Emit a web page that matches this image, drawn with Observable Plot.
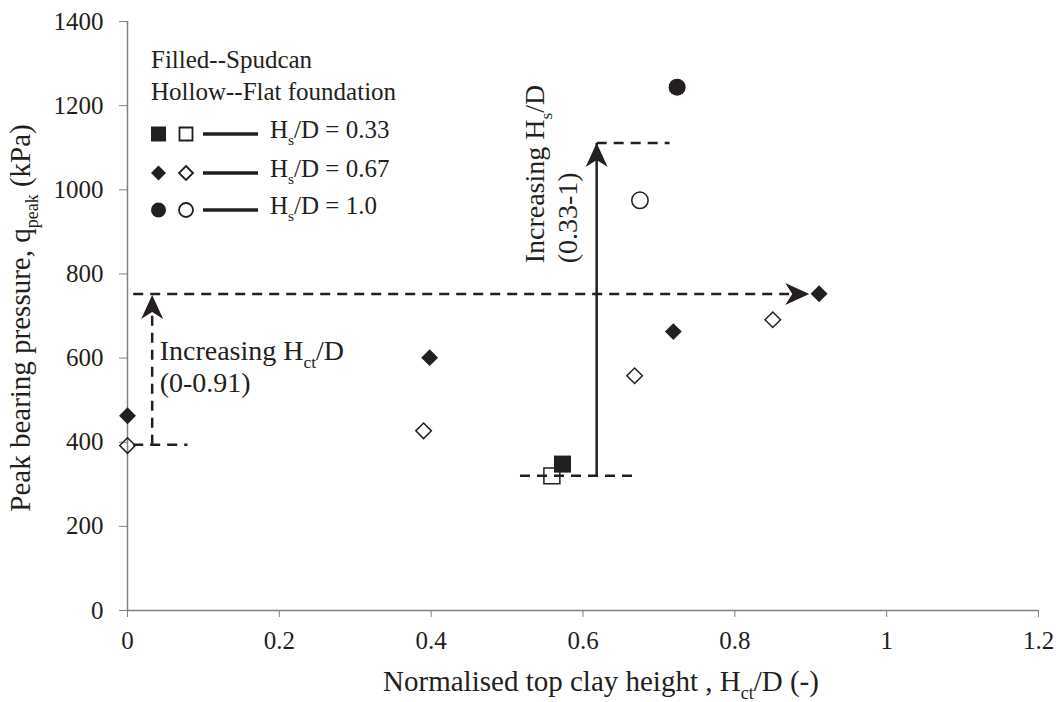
<!DOCTYPE html>
<html>
<head>
<meta charset="utf-8">
<script src="https://cdn.jsdelivr.net/npm/d3@7"></script>
<script src="https://cdn.jsdelivr.net/npm/@observablehq/plot@0.6"></script>
<style>
  html, body { margin: 0; padding: 0; background: #fff; }
  #chart { position: relative; width: 1059px; height: 702px; }
  #chart svg, #chart svg text, #chart svg tspan { font-family: "Liberation Serif", serif !important; }
</style>
</head>
<body>
<div id="chart"></div>
<script>
// ---------- data ----------
const xTicks = [0, 0.2, 0.4, 0.6, 0.8, 1, 1.2];
const yTicks = [0, 200, 400, 600, 800, 1000, 1200, 1400];

// Hs/D = 0.33
const spud033X = [0.573];
const spud033Y = [348];
const flat033X = [0.559];
const flat033Y = [320];
// Hs/D = 0.67
const spud067X = [0, 0.398, 0.719, 0.911];
const spud067Y = [463, 601, 663, 753];
const flat067X = [0, 0.39, 0.668, 0.85];
const flat067Y = [392, 427, 558, 691];
// Hs/D = 1.0
const spud100X = [0.724];
const spud100Y = [1244];
const flat100X = [0.675];
const flat100Y = [975];

// annotation guides (data coordinates)
const dashHY  = [752, 394, 1111, 320];
const dashHX1 = [0.0075, 0.0075, 0.618, 0.517];
const dashHX2 = [0.898, 0.079, 0.714, 0.665];
const dashVX  = [0.0325];
const dashVY1 = [394];
const dashVY2 = [750];
const solidVX  = [0.618];
const solidVY1 = [320];
const solidVY2 = [1111];
const arrowX   = [0.0325, 0.898, 0.618];
const arrowY   = [750, 752, 1111];
const arrowRot = [0, 90, 0];

const ink = "#231f20";
const axisGrey = "#808080";

const pts = (xs, ys) => xs.map((x, i) => ({x, y: ys[i]}));

// stealth arrowhead, tip at origin, pointing up
const stealth = {
  draw(ctx) {
    ctx.moveTo(0, 0);
    ctx.lineTo(11, 24);
    ctx.lineTo(0, 17);
    ctx.lineTo(-11, 24);
    ctx.closePath();
  }
};

const hDash = dashHY.map((y, i) => ({x1: dashHX1[i], x2: dashHX2[i], y1: y, y2: y}));
const vDash = dashVX.map((x, i) => ({x1: x, x2: x, y1: dashVY1[i], y2: dashVY2[i]}));
const vSolid = solidVX.map((x, i) => ({x1: x, x2: x, y1: solidVY1[i], y2: solidVY2[i]}));
const arrows = arrowX.map((x, i) => ({x, y: arrowY[i], r: arrowRot[i]}));

const plot = Plot.plot({
  width: 1059,
  height: 702,
  marginLeft: 127,
  marginRight: 21,
  marginTop: 21,
  marginBottom: 92,
  style: {fontFamily: "Liberation Serif", color: ink, background: "#fff"},
  x: {domain: [0, 1.2]},
  y: {domain: [0, 1400]},
  marks: [
    Plot.axisX({ticks: xTicks, tickFormat: d => String(d), tickSize: 7, tickPadding: 14, fontSize: 25, label: null, stroke: axisGrey, fill: ink}),
    Plot.axisY({ticks: yTicks, tickFormat: d => String(d), tickSize: 8, tickPadding: 16, fontSize: 25, label: null, stroke: axisGrey, fill: ink}),
    Plot.ruleX([0], {stroke: axisGrey, strokeWidth: 1.5}),
    Plot.ruleY([0], {stroke: axisGrey, strokeWidth: 1.5}),
    // guides
    Plot.link(hDash, {x1: "x1", x2: "x2", y1: "y1", y2: "y2", stroke: ink, strokeWidth: 2.5, strokeDasharray: "10,7"}),
    Plot.link(vDash, {x1: "x1", x2: "x2", y1: "y1", y2: "y2", stroke: ink, strokeWidth: 2.5, strokeDasharray: "10,7"}),
    Plot.link(vSolid, {x1: "x1", x2: "x2", y1: "y1", y2: "y2", stroke: ink, strokeWidth: 2.5}),
    Plot.dot(arrows, {x: "x", y: "y", rotate: "r", symbol: stealth, fill: ink, stroke: "none", r: 10}),
    // hollow (flat foundation)
    Plot.dot(pts(flat033X, flat033Y), {x: "x", y: "y", symbol: "square", r: 9.0, fill: "none", stroke: ink, strokeWidth: 1.5}),
    Plot.dot(pts(flat067X, flat067Y), {x: "x", y: "y", symbol: "diamond2", r: 7.0, fill: "none", stroke: ink, strokeWidth: 1.5}),
    Plot.dot(pts(flat100X, flat100Y), {x: "x", y: "y", symbol: "circle", r: 8.2, fill: "none", stroke: ink, strokeWidth: 1.5}),
    // filled (spudcan)
    Plot.dot(pts(spud033X, spud033Y), {x: "x", y: "y", symbol: "square", r: 9.6, fill: ink, stroke: "none"}),
    Plot.dot(pts(spud067X, spud067Y), {x: "x", y: "y", symbol: "diamond2", r: 7.6, fill: ink, stroke: "none"}),
    Plot.dot(pts(spud100X, spud100Y), {x: "x", y: "y", symbol: "circle", r: 8.5, fill: ink, stroke: "none"})
  ]
});

document.getElementById("chart").appendChild(plot);

// ---------- rich text (subscripts) ----------
const svg = d3.select(plot);
const sx = plot.scale("x"), sy = plot.scale("y");

function rich(x, y, parts, size, opts = {}) {
  const t = svg.append("text")
    .attr("x", x).attr("y", y)
    .attr("font-family", "Liberation Serif")
    .attr("font-size", size)
    .attr("fill", ink)
    .attr("text-anchor", opts.anchor || "start");
  if (opts.rotate) t.attr("transform", `rotate(${opts.rotate},${x},${y})`);
  const shift = size * 0.28;
  let down = false;
  parts.forEach(([s, sub]) => {
    const sp = t.append("tspan").text(s);
    if (sub && !down) { sp.attr("dy", shift).attr("font-size", size * 0.62); down = true; }
    else if (sub) { sp.attr("font-size", size * 0.62); }
    else if (down) { sp.attr("dy", -shift); down = false; }
  });
  return t;
}

// axis titles
rich(601, 691, [["Normalised top clay height , H"], ["ct", true], ["/D (-)"]], 29, {anchor: "middle"});
rich(30, 318, [["Peak bearing pressure, q"], ["peak", true], [" (kPa)"]], 29, {anchor: "middle", rotate: -90});

// annotations (anchored in data space)
const annotX = [0.043, 0.043];
const annotY = [594, 519];
rich(sx.apply(annotX[0]), sy.apply(annotY[0]), [["Increasing H"], ["ct", true], ["/D"]], 28);
rich(sx.apply(annotX[1]), sy.apply(annotY[1]), [["(0-0.91)"]], 28);

const annotRX = [0.5496, 0.593];
const annotRY = [824, 824];
rich(sx.apply(annotRX[0]), sy.apply(annotRY[0]), [["Increasing H"], ["s", true], ["/D"]], 28, {rotate: -90});
rich(sx.apply(annotRX[1]), sy.apply(annotRY[1]), [["(0.33-1)"]], 28, {rotate: -90});

// ---------- legend ----------
const legendLabels = ["0.33", "0.67", "1.0"];
const legendSymbols = [d3.symbolSquare, d3.symbolDiamond2, d3.symbolCircle];
rich(151, 68, [["Filled--Spudcan"]], 25);
rich(151, 100, [["Hollow--Flat foundation"]], 25);
const rowY = [134, 173, 210];
const filledArea = [15 * 15, 0, Math.PI * 7.5 * 7.5];
const hollowArea = [13 * 13, 0, Math.PI * 7 * 7];
legendLabels.forEach((lab, i) => {
  const y = rowY[i];
  const sym = legendSymbols[i];
  // diamond2 half-diagonal = 0.62625*sqrt(size)
  const fa = i === 1 ? Math.pow(7.5 / 0.62625, 2) : filledArea[i];
  const ha = i === 1 ? Math.pow(7.0 / 0.62625, 2) : hollowArea[i];
  svg.append("path")
    .attr("d", d3.symbol(sym, fa)())
    .attr("transform", `translate(158.5,${y})`)
    .attr("fill", ink);
  svg.append("path")
    .attr("d", d3.symbol(sym, ha)())
    .attr("transform", `translate(186,${y})`)
    .attr("fill", "none").attr("stroke", ink).attr("stroke-width", 1.8);
  svg.append("line")
    .attr("x1", 203).attr("x2", 258).attr("y1", y).attr("y2", y)
    .attr("stroke", ink).attr("stroke-width", 3.5);
  rich(270, y + 4, [["H"], ["s", true], ["/D = " + lab]], 25);
});
</script>
</body>
</html>
